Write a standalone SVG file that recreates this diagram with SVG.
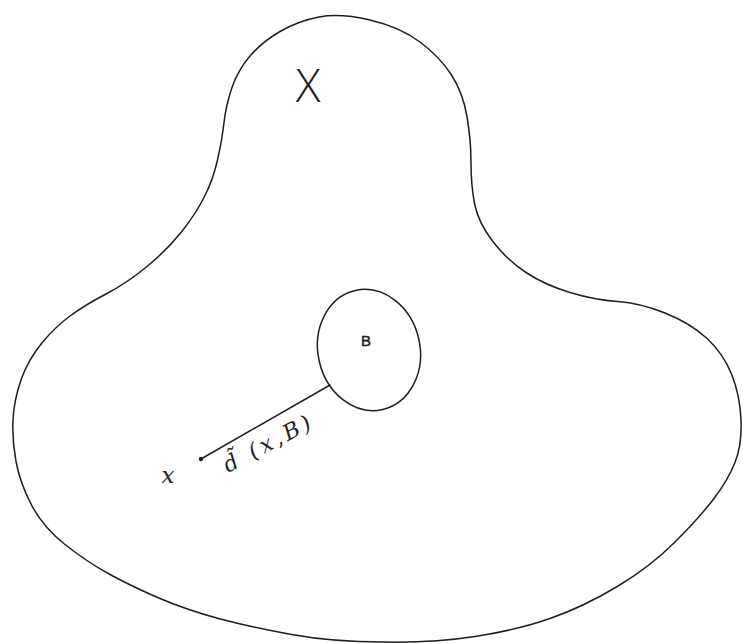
<svg xmlns="http://www.w3.org/2000/svg" width="743" height="643" viewBox="0 0 743 643">
<style>
.ink{fill:none;stroke:#1e1e1e;stroke-width:1.5;stroke-linecap:round;stroke-linejoin:round}
.hand{fill:#1e1e1e;font-family:"DejaVu Serif","Liberation Serif",serif;font-style:italic}
.cap{fill:#1e1e1e;font-family:"Liberation Sans","DejaVu Sans",sans-serif}
</style>
<rect width="743" height="643" fill="#ffffff"/>
<g id="regionX">
<path class="ink" d="M 370,20 Q 400,27 420,42 Q 440,57 451.5,75 Q 463,93 467,116.5 Q 471,140 471,162.5 Q 471,185 474.5,203.5 Q 478,222 492.5,241 Q 507,260 526,272.5 Q 545,285 570,292.5 Q 595,300 617.5,301.5 Q 640,303 665,313 Q 690,323 706.5,338 Q 723,353 731.5,374 Q 740,395 741,420 Q 742,445 735,462.5 Q 728,480 714,498.5 Q 700,517 675,542 Q 650,567 616.5,587 Q 583,607 550,618.5 Q 517,630 475,636.5 Q 433,643 383,642 Q 333,642 291.5,634.5 Q 250,627 218.5,618.5 Q 187,610 160,598.5 Q 133,587 110,574.5 Q 87,562 65,544.5 Q 43,527 31.5,505 Q 20,483 16,461.5 Q 12,440 13,420 Q 14,400 21,380 Q 28,360 41.5,343.5 Q 55,327 70,316 Q 85,305 106,294 Q 127,283 147,266.5 Q 167,250 181,232.5 Q 195,215 204,197.5 Q 213,180 217.5,160 Q 222,140 224,122.5 Q 226,105 232,87.5 Q 238,70 250,56 Q 262,42 280,31.5 Q 298,21 319,17 Q 340,13 370,20 Z"/>
<text class="cap" x="308" y="102" font-size="46" text-anchor="middle" style="font-family:'Open Sans','Liberation Sans',sans-serif;font-weight:300">X</text>
</g>
<g id="connectors">
<line class="ink" x1="201" y1="459" x2="330" y2="385"/>
<text class="hand" font-size="22" transform="translate(228,473) rotate(-28)" textLength="96" lengthAdjust="spacing">d̃ (x,B)</text>
</g>
<g id="setB">
<ellipse class="ink" cx="369" cy="350" rx="51" ry="61" transform="rotate(-13 369 350)"/>
<text class="cap" x="366" y="346" font-size="15" text-anchor="middle" stroke="#1e1e1e" stroke-width="0.5">B</text>
</g>
<g id="pointx">
<circle cx="201" cy="459" r="2.2" fill="#1e1e1e"/>
<text class="hand" x="168" y="483" font-size="23" text-anchor="middle">x</text>
</g>
</svg>
